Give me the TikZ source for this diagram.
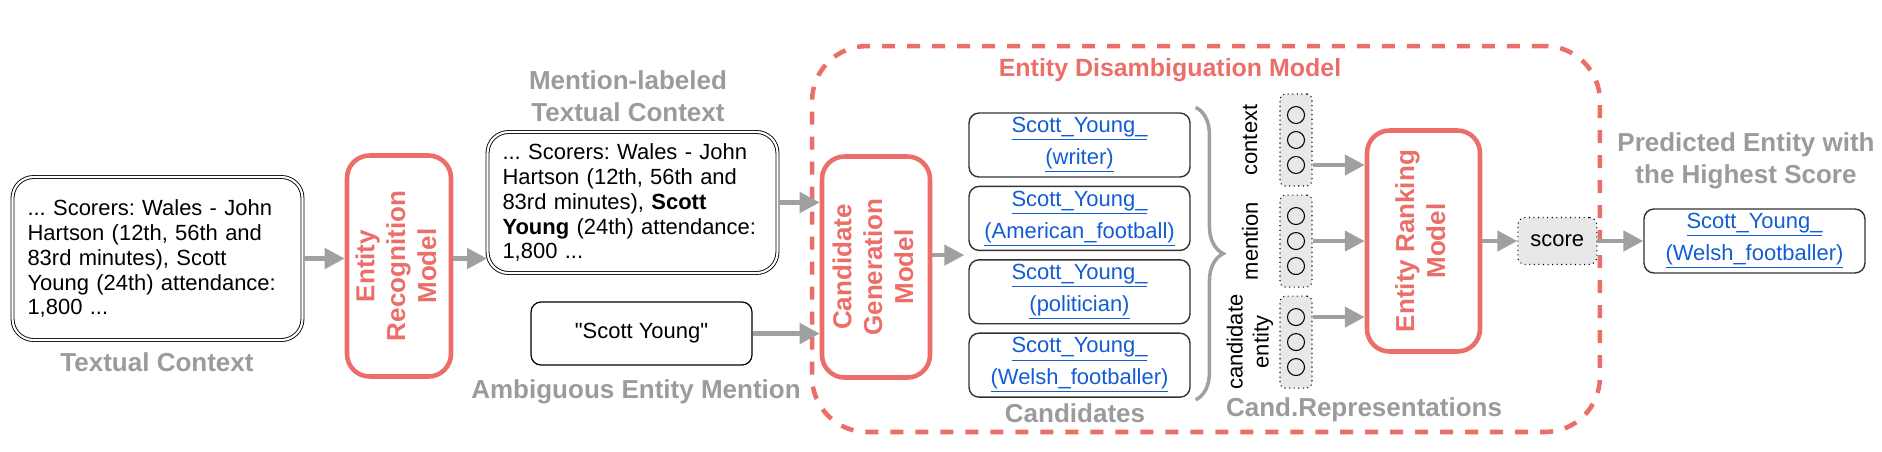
\documentclass[tikz,border=0pt]{standalone}
\usepackage{fontspec}
\setmainfont{Liberation Sans}
\usetikzlibrary{arrows.meta, calc, positioning, decorations.pathreplacing}

\definecolor{edmred}{RGB}{236,110,104}
\definecolor{lblgray}{RGB}{155,155,155}
\definecolor{flowgray}{RGB}{160,160,160}
\definecolor{linkblue}{RGB}{18,92,212}
\definecolor{vecfill}{RGB}{232,232,232}

\newcommand{\txtfont}{\fontsize{12.5}{14.2}\selectfont\frenchspacing}
\newcommand{\lblfont}{\fontsize{14.8}{18.4}\selectfont\bfseries}
\newcommand{\titlefont}{\fontsize{14.2}{17}\selectfont\bfseries}
\newcommand{\redfont}{\fontsize{14.8}{17.6}\selectfont\bfseries}
\newcommand{\linkfont}{\fontsize{12.5}{18.2}\selectfont}
\newcommand{\vertstack}[1]{\rotatebox{90}{\begin{tabular}{@{}c@{}}#1\end{tabular}}}
\newcommand{\wikilink}[2]{\textcolor{linkblue}{\underline{#1}}\\\textcolor{linkblue}{\underline{#2}}}

\tikzset{
  textbox/.style={draw, double, double distance=1.2pt, line width=0.5pt,
    rounded corners=0.42cm, align=left, text width=5.2cm, inner xsep=0.3cm},
  redbox/.style={draw=edmred, line width=2.6pt, rounded corners=0.45cm,
    text=edmred, font=\redfont, inner sep=0pt, minimum height=4.42cm},
  candbox/.style={draw=black!80, line width=0.8pt, rounded corners=0.2cm,
    align=center, font=\linkfont, inner sep=0pt, minimum width=4.42cm,
    minimum height=1.28cm},
  vecbox/.style={draw, dotted, line width=0.6pt, fill=vecfill,
    rounded corners=0.1cm, minimum width=0.64cm, minimum height=1.84cm},
  unit/.style={draw, circle, line width=0.6pt, minimum size=0.34cm, inner sep=0pt},
  flow/.style={->, draw=flowgray, line width=2.6pt},
  lbl/.style={text=lblgray, font=\lblfont, align=center},
  sidelbl/.style={rotate=90, align=center, font=\fontsize{12.5}{14.8}\selectfont},
}

\begin{document}
\begin{tikzpicture}[x=0.02cm, y=-0.02cm, >={Triangle[length=0.4cm, width=0.4cm]}, font=\txtfont]
  \useasboundingbox (0,0) rectangle (1882,451);

  % disambiguation part
  \node[draw=edmred, line width=2.6pt, dash pattern=on 0.26cm off 0.24cm,
    rounded corners=1.1cm, minimum width=15.76cm, minimum height=7.72cm] (edm) at (1206,239) {};
  \node[text=edmred, font=\titlefont] (edmtitle) at (1170,70) {Entity Disambiguation Model};

  \node[textbox, minimum height=3.26cm] (ctx) at (157.5,258.5)
    {... Scorers: Wales - John\\Hartson (12th, 56th and\\83rd minutes), Scott\\Young (24th) attendance:\\1,800 ...};
  \node[redbox, minimum width=2.08cm] (erm) at (399,266) {\vertstack{Entity\\Recognition\\Model}};
  \node[textbox, minimum height=2.82cm] (ml) at (632.5,202.5)
    {... Scorers: Wales - John\\Hartson (12th, 56th and\\83rd minutes), \textbf{Scott}\\\textbf{Young} (24th) attendance:\\1,800 ...};
  \node[draw, line width=0.7pt, rounded corners=0.2cm, minimum width=4.42cm,
    minimum height=1.26cm] (mention) at (641.5,333.5) {\textquotedbl Scott Young\textquotedbl};

  \node[redbox, minimum width=2.16cm] (cgm) at (876,267) {\vertstack{Candidate\\Generation\\Model}};

  \node[candbox] (cand1) at (1079.5,145) {\wikilink{Scott\_Young\_}{(writer)}};
  \node[candbox, below=0.16cm of cand1] (cand2) {\wikilink{Scott\_Young\_}{(American\_football)}};
  \node[candbox, below=0.16cm of cand2] (cand3) {\wikilink{Scott\_Young\_}{(politician)}};
  \node[candbox, below=0.16cm of cand3] (cand4) {\wikilink{Scott\_Young\_}{(Welsh\_footballer)}};
  \draw[decorate, decoration={brace, amplitude=0.55cm}, draw=flowgray, line width=2pt]
    ([shift={(0.1cm,0.1cm)}]cand1.north east) -- ([shift={(0.1cm,-0.04cm)}]cand4.south east);

  \node[vecbox] (vec1) at (1296,140) {};
  \node[vecbox, below=0.16cm of vec1] (vec2) {};
  \node[vecbox, below=0.16cm of vec2] (vec3) {};
  \foreach \v in {1,2,3}
    \foreach \u/\dy in {1/0.5cm, 2/0cm, 3/-0.5cm}
      \node[unit] (v\v u\u) at ([yshift=\dy]vec\v.center) {};
  \node[sidelbl] (ctxlbl) at ([xshift=-0.92cm]vec1.center) {context};
  \node[sidelbl] (mentionlbl) at ([xshift=-0.92cm]vec2.center) {mention};
  \node[sidelbl] (candlbl) at ([xshift=-0.92cm]vec3.center) {candidate\\entity};

  \node[redbox, minimum width=2.26cm] (erank) at (1423.5,241) {\vertstack{Entity Ranking\\Model}};
  \node[draw, dotted, line width=0.6pt, fill=vecfill, rounded corners=0.15cm,
    minimum width=1.58cm, minimum height=0.94cm, right=0.7cm of erank] (score) {score};
  \node[candbox, right=0.92cm of score] (best) {\wikilink{Scott\_Young\_}{(Welsh\_footballer)}};

  % gray captions
  \node[lbl] (ctxname) at (157,362) {Textual Context};
  \node[lbl] (mlname) at (628,96) {Mention-labeled\\Textual Context};
  \node[lbl] (mentionname) at (636,392) {Ambiguous Entity Mention};
  \node[lbl] (candname) at (1075,413) {Candidates};
  \node[lbl] (reprname) at (1364,410) {Cand.Representations};
  \node[lbl] (bestname) at (1746,161) {Predicted Entity with\\the Highest Score};

  % arrows
  \draw[flow] (ctx.east) -- (ctx.east -| erm.west);
  \draw[flow] (ctx.east -| erm.east) -- (ctx.east -| ml.west);
  \draw[flow] (ml.east) -- (ml.east -| cgm.west);
  \draw[flow] (mention.east) -- (mention.east -| cgm.west);
  \coordinate (candin) at ($(cand2.south west)!0.5!(cand3.north west)+(-0.08cm,0)$);
  \draw[flow] (candin -| cgm.east) -- (candin);
  \draw[flow] (v1u3 -| vec1.east) -- (v1u3 -| erank.west);
  \draw[flow] (vec2.east) -- (vec2.east -| erank.west);
  \draw[flow] (v3u1 -| vec3.east) -- (v3u1 -| erank.west);
  \draw[flow] (score -| erank.east) -- (score.west);
  \draw[flow] (score.east) -- (best.west);
\end{tikzpicture}
\end{document}
